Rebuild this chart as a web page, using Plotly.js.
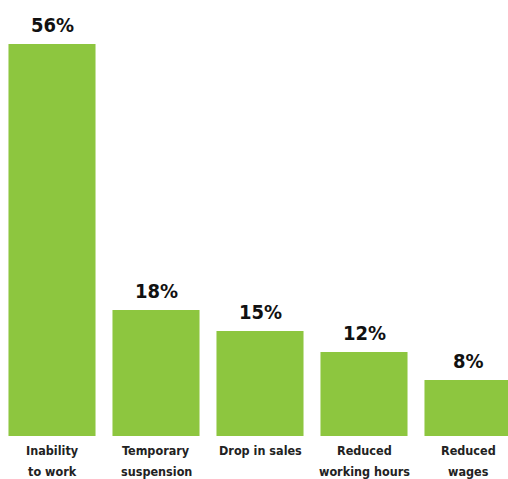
<!DOCTYPE html>
<html>
<head>
<meta charset="utf-8">
<script src="https://cdn.plot.ly/plotly-3.0.1.min.js"></script>
<style>
html,body{margin:0;padding:0;overflow:hidden;background:#fff;width:508px;height:479px;}
#chart{width:520px;height:479px;}
</style>
</head>
<body>
<div id="chart"></div>
<script>
const categories = ["Inability to work", "Temporary suspension", "Drop in sales", "Reduced working hours", "Reduced wages"];
const labelLine1 = ["Inability", "Temporary", "Drop in sales", "Reduced", "Reduced"];
const labelLine2 = ["to work", "suspension", "", "working hours", "wages"];
const values = [56, 18, 15, 12, 8];
const valueLabels = ["56%", "18%", "15%", "12%", "8%"];

const FONT = '"DejaVu Sans Condensed", sans-serif';

const trace = {
  type: 'bar',
  x: categories,
  y: values,
  marker: {color: '#8dc63f'},
  hoverinfo: 'none'
};

const annotations = [];
categories.forEach((c, i) => {
  annotations.push({
    x: c, y: values[i], xref: 'x', yref: 'y',
    text: '<b>' + valueLabels[i] + '</b>',
    showarrow: false, yanchor: 'bottom', yshift: 5,
    font: {family: FONT, size: 20, color: '#111'}
  });
  annotations.push({
    x: c, y: 0, xref: 'x', yref: 'y',
    text: '<b>' + labelLine1[i] + '</b>',
    showarrow: false, yanchor: 'top', yshift: -5,
    font: {family: FONT, size: 12.5, color: '#222'}
  });
  if (labelLine2[i]) {
    annotations.push({
      x: c, y: 0, xref: 'x', yref: 'y',
      text: '<b>' + labelLine2[i] + '</b>',
      showarrow: false, yanchor: 'top', yshift: -26,
      font: {family: FONT, size: 12.5, color: '#222'}
    });
  }
});

const layout = {
  width: 520,
  height: 479,
  margin: {l: 0, r: 0, t: 0, b: 43},
  paper_bgcolor: '#fff',
  plot_bgcolor: '#fff',
  bargap: 0.163,
  showlegend: false,
  annotations: annotations,
  xaxis: {
    range: [-0.5, 4.5],
    showgrid: false,
    zeroline: false,
    showline: false,
    ticks: '',
    showticklabels: false,
    fixedrange: true
  },
  yaxis: {
    range: [0, 62.3],
    visible: false,
    fixedrange: true
  }
};

Plotly.newPlot('chart', [trace], layout, {displayModeBar: false, staticPlot: true});
</script>
</body>
</html>
